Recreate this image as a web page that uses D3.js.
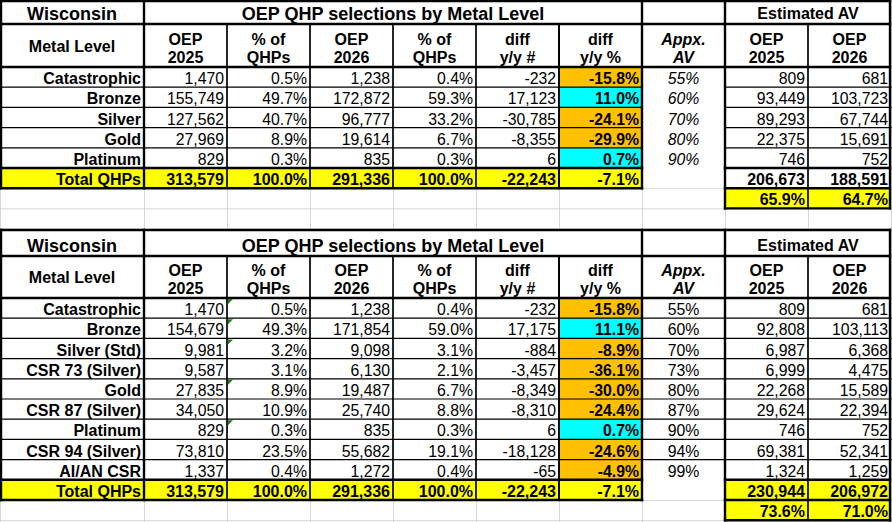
<!DOCTYPE html>
<html>
<head>
<meta charset="utf-8">
<script src="https://cdn.jsdelivr.net/npm/d3@7"></script>
<style>
  body { margin: 0; background: #fff; }
  svg  { display: block; }
  text { font-family: "Liberation Sans", Arial, sans-serif; fill: #000; }
</style>
</head>
<body>
<div id="chart"></div>
<script>

// ---- top table: metal levels only ----
var levelsA    = ["Catastrophic", "Bronze", "Silver", "Gold", "Platinum"];
var oep2025A   = [1470, 155749, 127562, 27969, 829];
var share2025A = [0.5, 49.7, 40.7, 8.9, 0.3];
var oep2026A   = [1238, 172872, 96777, 19614, 835];
var share2026A = [0.4, 59.3, 33.2, 6.7, 0.3];
var diffNumA   = [-232, 17123, -30785, -8355, 6];
var diffPctA   = [-15.8, 11.0, -24.1, -29.9, 0.7];
var appxAvA    = [55, 60, 70, 80, 90];
var estAv2025A = [809, 93449, 89293, 22375, 746];
var estAv2026A = [681, 103723, 67744, 15691, 752];
var totalsA    = [313579, 100.0, 291336, 100.0, -22243, -7.1];
var estTotalsA = [206673, 188591];
var estPctA    = [65.9, 64.7];

// ---- bottom table: silver split out by CSR level ----
var levelsB    = ["Catastrophic", "Bronze", "Silver (Std)", "CSR 73 (Silver)", "Gold",
                  "CSR 87 (Silver)", "Platinum", "CSR 94 (Silver)", "AI/AN CSR"];
var oep2025B   = [1470, 154679, 9981, 9587, 27835, 34050, 829, 73810, 1337];
var share2025B = [0.5, 49.3, 3.2, 3.1, 8.9, 10.9, 0.3, 23.5, 0.4];
var oep2026B   = [1238, 171854, 9098, 6130, 19487, 25740, 835, 55682, 1272];
var share2026B = [0.4, 59.0, 3.1, 2.1, 6.7, 8.8, 0.3, 19.1, 0.4];
var diffNumB   = [-232, 17175, -884, -3457, -8349, -8310, 6, -18128, -65];
var diffPctB   = [-15.8, 11.1, -8.9, -36.1, -30.0, -24.4, 0.7, -24.6, -4.9];
var appxAvB    = [55, 60, 70, 73, 80, 87, 90, 94, 99];
var estAv2025B = [809, 92808, 6987, 6999, 22268, 29624, 746, 69381, 1324];
var estAv2026B = [681, 103113, 6368, 4475, 15589, 22394, 752, 52341, 1259];
var totalsB    = [313579, 100.0, 291336, 100.0, -22243, -7.1];
var estTotalsB = [230944, 206972];
var estPctB    = [73.6, 71.0];
// cells showing Excel's green "error" flag in the % of QHPs column
var flaggedB   = [0, 1, 2, 4, 6];

var headerLines = [
  ["OEP", "2025"], ["% of", "QHPs"], ["OEP", "2026"], ["% of", "QHPs"],
  ["diff", "y/y #"], ["diff", "y/y %"], ["Appx.", "AV"], ["OEP", "2025"], ["OEP", "2026"]
];

var W = 892, H = 522;
var svg = d3.select("#chart").append("svg")
  .attr("width",  W)
  .attr("height", H);

// column layout
var colKeys   = ["level", "oep25", "pct25", "oep26", "pct26", "diffN", "diffP", "av", "est25", "est26"];
var colWidths = [144, 83, 83, 83, 83, 83, 83, 83, 83, 83];
var colEdges  = [0].concat(Array.from(d3.cumsum(colWidths)));
var xL = d3.scaleOrdinal().domain(colKeys).range(colEdges.slice(0, -1));
var xR = d3.scaleOrdinal().domain(colKeys).range(colEdges.slice(1));
var xC = function(k) { return (xL(k) + xR(k)) / 2; };

// Excel shows a plain hyphen for negatives, not the unicode minus
var locale = d3.formatLocale({decimal: ".", thousands: ",", grouping: [3],
                              currency: ["$", ""], minus: "-"});
var fmtInt = locale.format(",");
var fmtPct = function(v) { return locale.format(".1f")(v) + "%"; };

var ORANGE = "#ffc000", CYAN = "#00ffff", YELLOW = "#ffff00", GRID = "#d6d6d6";

var gGrid  = svg.append("g");
var gFill  = svg.append("g");
var gLines = svg.append("g");
var gText  = svg.append("g");

function line(x1, y1, x2, y2, w, col) {
  gLines.append("line")
    .attr("x1", x1).attr("y1", y1)
    .attr("x2", x2).attr("y2", y2)
    .attr("stroke", col || "#000")
    .attr("stroke-width", w)
    .attr("stroke-linecap", "square");
}

function fill(x1, y1, x2, y2, col) {
  gFill.append("rect")
    .attr("x", x1).attr("y", y1)
    .attr("width", x2 - x1).attr("height", y2 - y1)
    .attr("fill", col);
}

function label(x, y, str, anchor, size, bold, italic) {
  gText.append("text")
    .attr("x", x).attr("y", y)
    .attr("text-anchor", anchor)
    .attr("font-size", size)
    .attr("font-weight", bold ? "bold" : "normal")
    .attr("font-style", italic ? "italic" : "normal")
    .text(str);
}

// spreadsheet gridlines behind everything
colEdges.forEach(function(x) {
  gGrid.append("line").attr("x1", x + 0.5).attr("x2", x + 0.5)
    .attr("y1", 0).attr("y2", H).attr("stroke", GRID);
});

function drawTable(t) {

  var n      = t.levels.length;
  var yHead  = t.top + t.titleH;
  var yData  = yHead + t.headerH;
  var y      = d3.scaleBand().domain(d3.range(n + 3)).range([yData, yData + (n + 3) * t.rowH]);
  var yTot   = y(n), yExtra = y(n + 1), yEnd = y(n + 1) + y.bandwidth();
  var yGap   = y(n + 2) + y.bandwidth();
  var left   = xL("level"), mid = xL("av"), est = xL("est25"), right = xR("est26");

  // gridlines for the empty rows under the table
  [yExtra, yEnd, yGap].forEach(function(yy) {
    gGrid.append("line").attr("x1", 0).attr("x2", W)
      .attr("y1", yy + 0.5).attr("y2", yy + 0.5).attr("stroke", GRID);
  });

  // cell backgrounds
  fill(left, t.top, right, yTot, "#fff");
  fill(left, yTot, mid, yExtra, YELLOW);
  fill(mid, yTot, est, yExtra, "#fff");
  fill(est, yTot, right, yExtra, t.yellowEstTotal ? YELLOW : "#fff");
  fill(est, yExtra, right, yEnd, YELLOW);
  t.diffPct.forEach(function(v, i) {
    fill(xL("diffP"), y(i), xR("diffP"), y(i) + y.bandwidth(), v < 0 ? ORANGE : CYAN);
  });

  // thin row separators
  d3.range(1, n).forEach(function(i) {
    line(left, y(i), mid, y(i), 1.2);
    line(est, y(i), right, y(i), 1.2);
    if (t.avRowLines) line(mid, y(i), est, y(i), 1.2);
  });
  // column separators inside header and body
  colKeys.slice(1).forEach(function(k) {
    line(xL(k), yHead, xL(k), yExtra, 1.7);
  });
  line(xL("est26"), yExtra, xL("est26"), yEnd, 1.7);

  // thick group borders
  var thick = 2.4;
  line(left + 1, t.top, right - 1, t.top, thick);
  line(left + 1, yHead, right - 1, yHead, thick);
  line(left + 1, yData, right - 1, yData, thick);
  line(left + 1, yTot, mid, yTot, thick);
  line(left + 1, yExtra, mid, yExtra, thick);
  line(est, yTot, right - 1, yTot, thick);
  line(est, yExtra, right - 1, yExtra, thick);
  line(est, yEnd, right - 1, yEnd, thick);
  line(left + 1, t.top, left + 1, yExtra, thick);
  line(xR("level"), t.top, xR("level"), yExtra, thick);
  line(xL("diffP"), yHead, xL("diffP"), yExtra, 2);
  line(mid, t.top, mid, yExtra, thick);
  line(est, t.top, est, yEnd, thick);
  line(right - 1, t.top, right - 1, yEnd, thick);

  // green error flags
  (t.flagged || []).forEach(function(i) {
    var x0 = xL("pct25") + 1, y0 = y(i) + 1;
    gLines.append("path")
      .attr("d", "M" + x0 + "," + y0 + "h5l-5,5z")
      .attr("fill", "#1f7a28");
  });

  // titles
  label(xC("level"), t.top + t.titleH - 4.5, "Wisconsin", "middle", 18, true);
  label((xL("oep25") + xR("diffP")) / 2, t.top + t.titleH - 4.5,
        "OEP QHP selections by Metal Level", "middle", 18, true);
  label((est + right) / 2, t.top + t.titleH - 5.5, "Estimated AV", "middle", 16, true);

  // column headers
  label(xC("level"), yHead + t.headerH / 2 + 6, "Metal Level", "middle", 16, true);
  colKeys.slice(1).forEach(function(k, j) {
    var it = k === "av";
    label(xC(k), yHead + t.headerH / 2 - 1, headerLines[j][0], "middle", 16, true, it);
    label(xC(k), yHead + t.headerH - 4,     headerLines[j][1], "middle", 16, true, it);
  });

  // body rows
  var fs = 15.8, pad = 3;
  function base(i) { return y(i) + y.bandwidth() - 3; }
  t.levels.forEach(function(name, i) {
    var b = base(i);
    label(xR("level") - pad, b, name, "end", 16, true);
    label(xR("oep25") - pad, b, fmtInt(t.oep2025[i]),  "end", fs);
    label(xR("pct25") - pad, b, fmtPct(t.share2025[i]), "end", fs);
    label(xR("oep26") - pad, b, fmtInt(t.oep2026[i]),  "end", fs);
    label(xR("pct26") - pad, b, fmtPct(t.share2026[i]), "end", fs);
    label(xR("diffN") - pad, b, fmtInt(t.diffNum[i]),  "end", fs);
    label(xR("diffP") - pad, b, fmtPct(t.diffPct[i]),  "end", fs, true);
    label(xC("av"), b, t.appxAv[i] + "%", "middle", fs, false, t.italicAv);
    label(xR("est25") - pad, b, fmtInt(t.estAv2025[i]), "end", fs);
    label(xR("est26") - pad, b, fmtInt(t.estAv2026[i]), "end", fs);
  });

  // totals
  var bt = base(n);
  label(xR("level") - pad, bt, "Total QHPs", "end", 16, true);
  ["oep25", "pct25", "oep26", "pct26", "diffN", "diffP"].forEach(function(k, j) {
    var v = t.totals[j];
    label(xR(k) - pad, bt, (j === 1 || j === 3 || j === 5) ? fmtPct(v) : fmtInt(v), "end", 16, true);
  });
  label(xR("est25") - pad, bt, fmtInt(t.estTotals[0]), "end", 16, true);
  label(xR("est26") - pad, bt, fmtInt(t.estTotals[1]), "end", 16, true);
  label(xR("est25") - pad, base(n + 1), fmtPct(t.estPct[0]), "end", 16, true);
  label(xR("est26") - pad, base(n + 1), fmtPct(t.estPct[1]), "end", 16, true);
}

drawTable({
  top: 1, titleH: 23, headerH: 43, rowH: 20.2,
  levels: levelsA, oep2025: oep2025A, share2025: share2025A,
  oep2026: oep2026A, share2026: share2026A, diffNum: diffNumA, diffPct: diffPctA,
  appxAv: appxAvA, estAv2025: estAv2025A, estAv2026: estAv2026A,
  totals: totalsA, estTotals: estTotalsA, estPct: estPctA,
  italicAv: true, avRowLines: false, yellowEstTotal: false
});

drawTable({
  top: 230, titleH: 26, headerH: 42, rowH: 20.2,
  levels: levelsB, oep2025: oep2025B, share2025: share2025B,
  oep2026: oep2026B, share2026: share2026B, diffNum: diffNumB, diffPct: diffPctB,
  appxAv: appxAvB, estAv2025: estAv2025B, estAv2026: estAv2026B,
  totals: totalsB, estTotals: estTotalsB, estPct: estPctB,
  italicAv: false, avRowLines: true, yellowEstTotal: true, flagged: flaggedB
});

</script>
</body>
</html>
